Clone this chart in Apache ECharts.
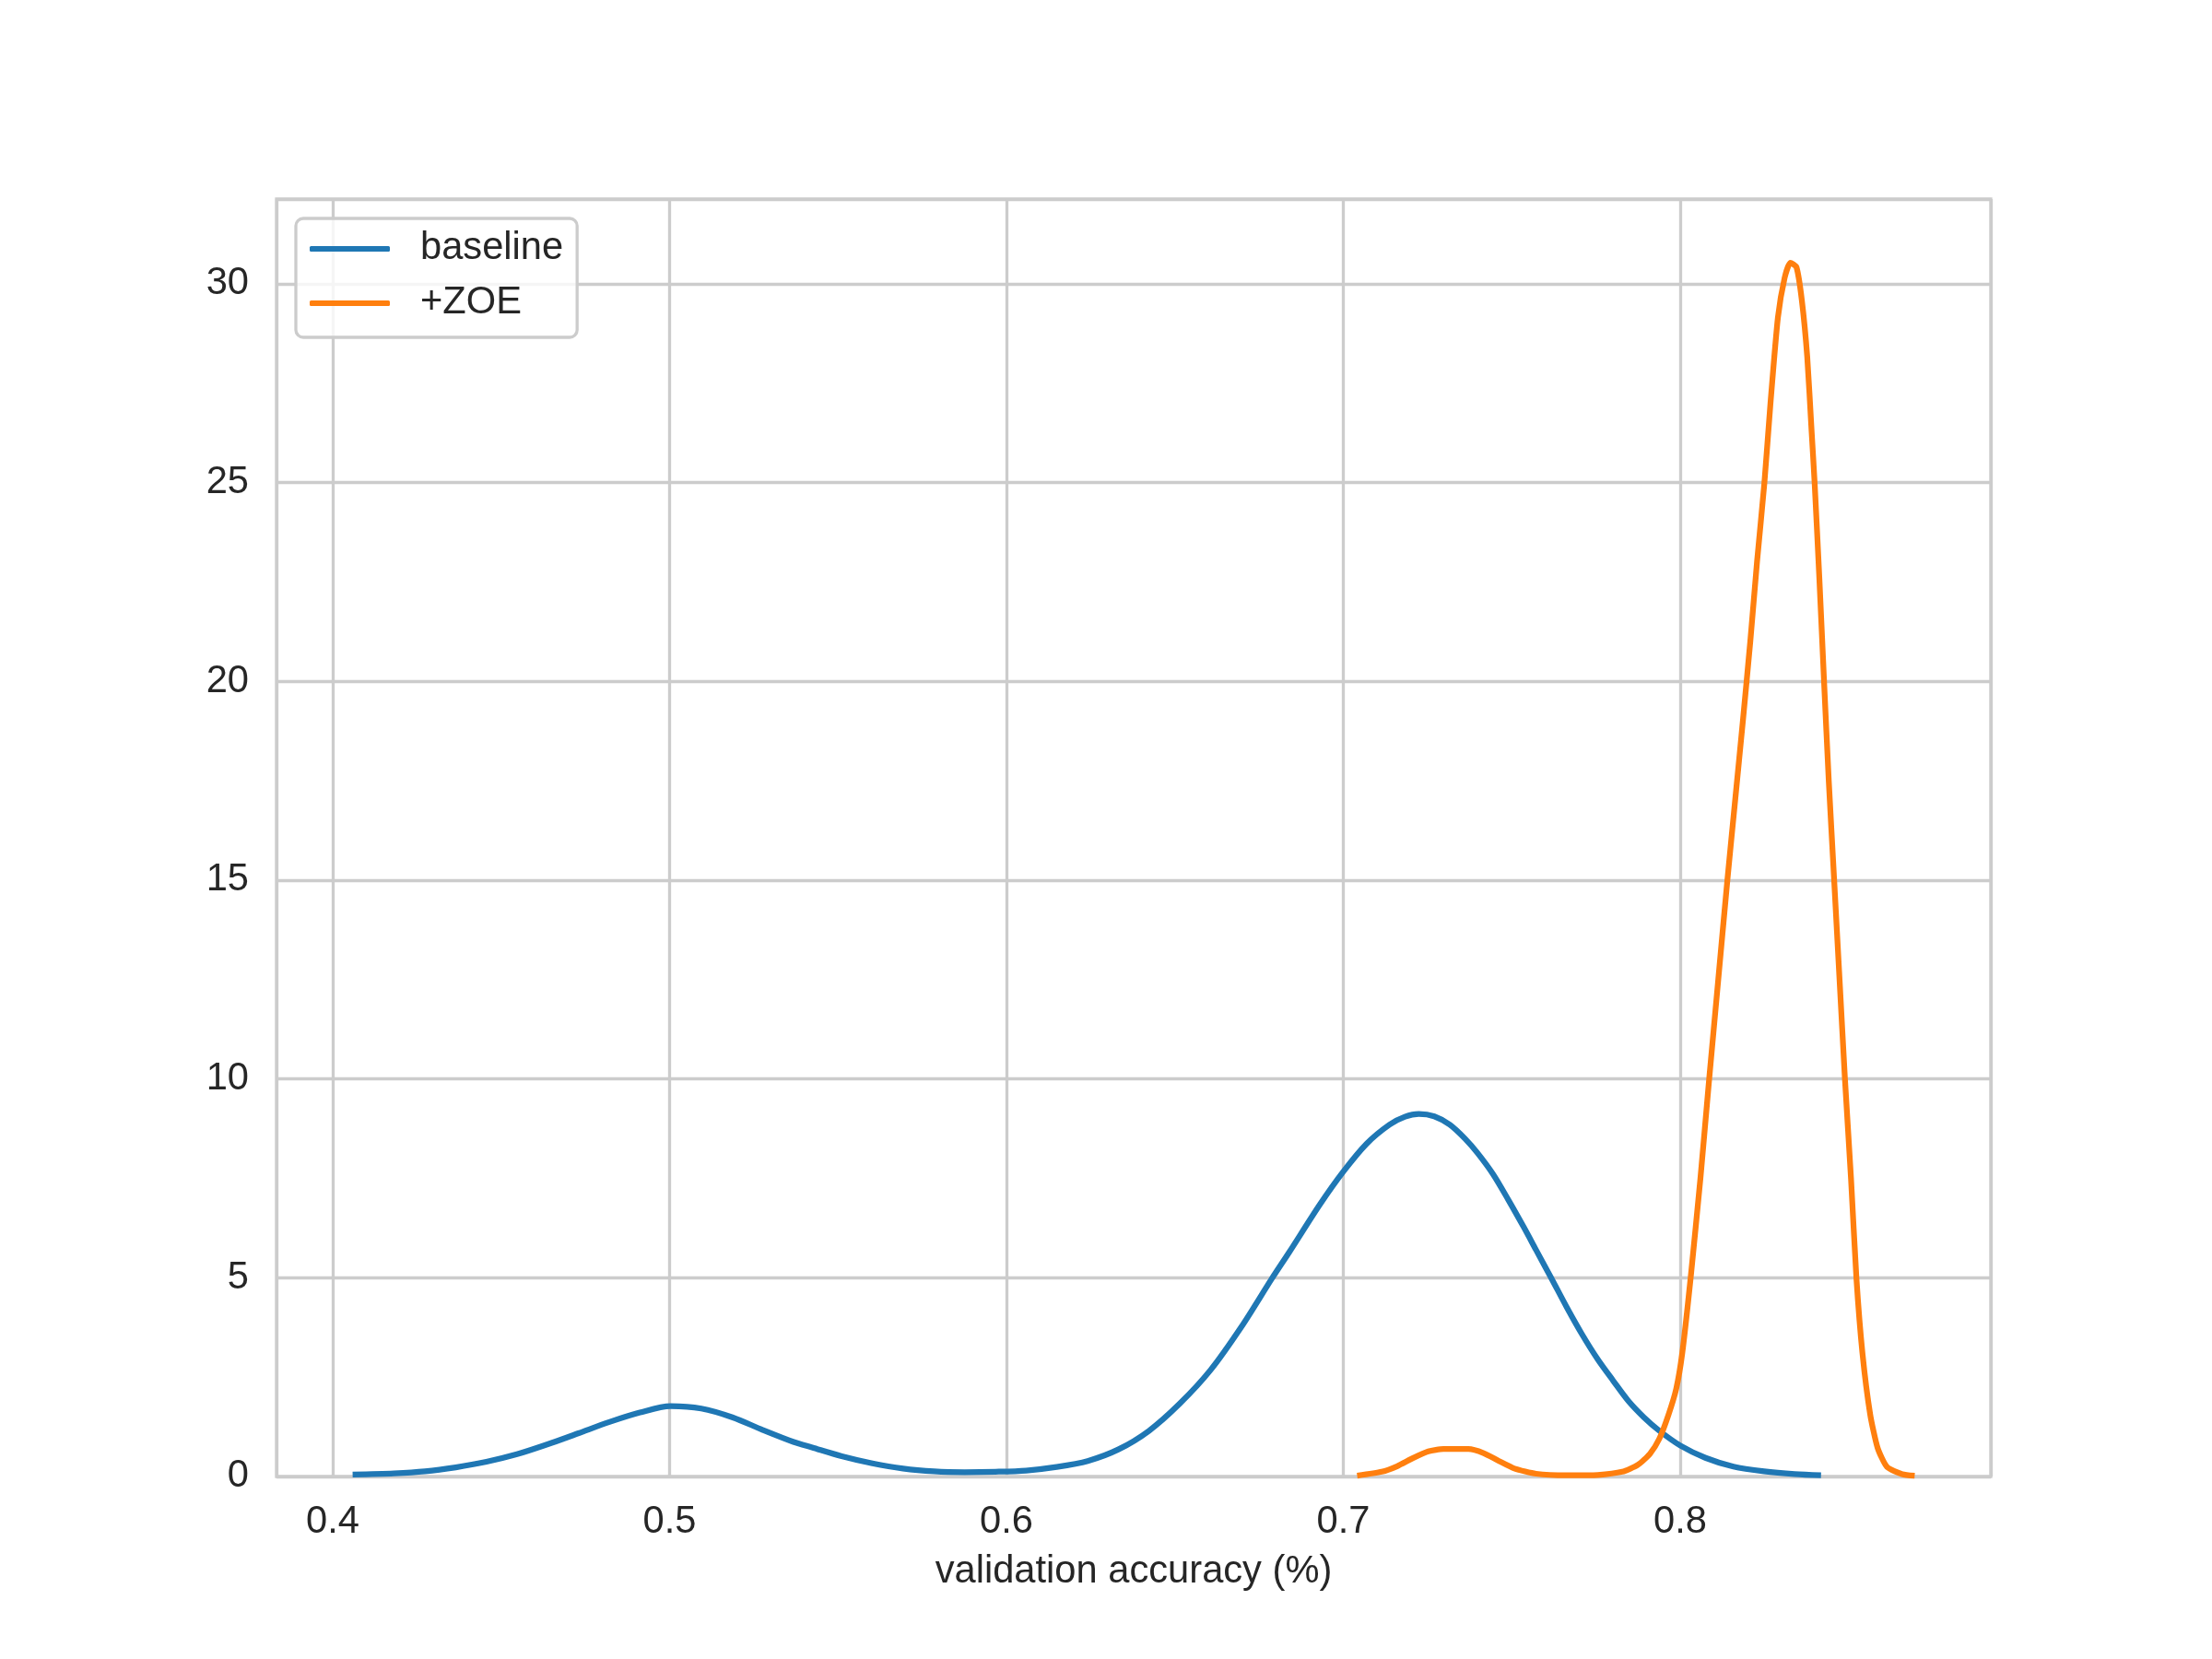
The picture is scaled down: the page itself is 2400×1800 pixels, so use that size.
<!DOCTYPE html>
<html><head><meta charset="utf-8">
<script src="https://cdn.jsdelivr.net/npm/echarts@6/dist/echarts.min.js"></script>
<style>html,body{margin:0;padding:0;background:#fff}#c{width:2400px;height:1800px}</style>
</head><body><div id="c"></div>
<script>
const seriesNames = ['baseline', '+ZOE'];
const xAxisTitle = 'validation accuracy (%)';

const baselineX = [0.4059,0.4182,0.4274,0.4365,0.4456,0.4547,0.4638,0.4730,0.4821,0.4912,0.5003,0.5094,0.5186,0.5277,0.5368,0.5423,0.5511,0.5602,0.5693,0.5785,0.5876,0.5967,0.6058,0.6149,0.6241,0.6332,0.6423,0.6514,0.6606,0.6697,0.6788,0.6840,0.6931,0.7000,0.7069,0.7137,0.7183,0.7224,0.7270,0.7316,0.7361,0.7398,0.7444,0.7489,0.7535,0.7572,0.7618,0.7663,0.7709,0.7755,0.7801,0.7846,0.7892,0.7938,0.8000,0.8075,0.8158,0.8249,0.8340,0.8418];
const baselineY = [0.05,0.08,0.13,0.23,0.37,0.56,0.81,1.09,1.37,1.61,1.77,1.71,1.49,1.17,0.87,0.73,0.51,0.33,0.20,0.13,0.11,0.12,0.15,0.24,0.39,0.68,1.15,1.83,2.68,3.76,4.98,5.65,6.85,7.67,8.37,8.85,9.05,9.12,9.06,8.85,8.50,8.14,7.61,6.97,6.28,5.70,4.98,4.26,3.57,2.95,2.41,1.90,1.49,1.15,0.78,0.47,0.25,0.13,0.06,0.03];

const zoeX = [0.7041,0.7114,0.7160,0.7206,0.7252,0.7297,0.7371,0.7416,0.7462,0.7508,0.7572,0.7663,0.7755,0.7828,0.7874,0.7910,0.7938,0.7965,0.7988,0.8006,0.8031,0.8060,0.8086,0.8113,0.8140,0.8163,0.8186,0.8208,0.8228,0.8250,0.8268,0.8290,0.8310,0.8327,0.8345,0.8361,0.8377,0.8390,0.8399,0.8413,0.8427,0.8441,0.8457,0.8473,0.8489,0.8507,0.8523,0.8541,0.8564,0.8586,0.8614,0.8659,0.8696];
const zoeY = [0.02,0.12,0.26,0.46,0.63,0.69,0.69,0.59,0.39,0.20,0.07,0.03,0.04,0.12,0.29,0.57,0.95,1.55,2.20,3.10,5.00,7.50,10.00,12.50,15.00,17.00,19.00,21.00,23.00,25.00,27.00,29.15,30.15,30.53,30.42,29.59,28.17,26.30,25.00,22.60,20.00,17.50,15.00,12.50,10.00,7.50,5.00,3.10,1.56,0.72,0.24,0.06,0.02];

const FONT = '"Liberation Sans", Arial, sans-serif';
const TXT = '#262626';
const GRID = '#cccccc';

const chart = echarts.init(document.getElementById('c'), null, {renderer: 'canvas'});
chart.setOption({
  animation: false,
  backgroundColor: '#ffffff',
  grid: {left: 300, right: 240, top: 216, bottom: 198, show: true, borderColor: GRID, borderWidth: 3.3, backgroundColor: 'transparent'},
  xAxis: {
    type: 'value', min: 0.3833, max: 0.8922, splitNumber: 5,
    name: xAxisTitle, nameLocation: 'middle', nameGap: 83,
    nameTextStyle: {fontSize: 41.67, color: TXT, fontFamily: FONT},
    axisLine: {show: false}, axisTick: {show: false},
    axisLabel: {fontSize: 41.67, color: TXT, fontFamily: FONT, margin: 29, showMinLabel: false, showMaxLabel: false},
    splitLine: {show: true, lineStyle: {color: GRID, width: 3.3}}
  },
  yAxis: {
    type: 'value', min: 0, max: 32.13, interval: 5,
    axisLine: {show: false}, axisTick: {show: false},
    axisLabel: {fontSize: 41.67, color: TXT, fontFamily: FONT, margin: 30, showMaxLabel: false, padding: [6, 0, 0, 0]},
    splitLine: {show: true, lineStyle: {color: GRID, width: 3.3}}
  },
  legend: {
    orient: 'vertical', left: 321, top: 237,
    itemWidth: 87, itemHeight: 6, itemGap: 17, icon: 'roundRect',
    padding: [12, 15, 16, 15],
    backgroundColor: 'rgba(255,255,255,0.8)', borderColor: GRID, borderWidth: 3.3, borderRadius: 8,
    textStyle: {fontSize: 41.67, color: TXT, fontFamily: FONT, lineHeight: 29, padding: [13, 0, 0, 28]},
    data: seriesNames
  },
  series: [
    {name: seriesNames[0], type: 'line', data: baselineX.map((x, i) => [x, baselineY[i]]),
     symbol: 'none', showSymbol: false, smooth: 0.3, color: '#1f77b4',
     lineStyle: {width: 6.25, color: '#1f77b4', join: 'round'}},
    {name: seriesNames[1], type: 'line', data: zoeX.map((x, i) => [x, zoeY[i]]),
     symbol: 'none', showSymbol: false, smooth: 0.2, color: '#ff7f0e',
     lineStyle: {width: 6.25, color: '#ff7f0e', join: 'round'}}
  ]
});
</script></body></html>
